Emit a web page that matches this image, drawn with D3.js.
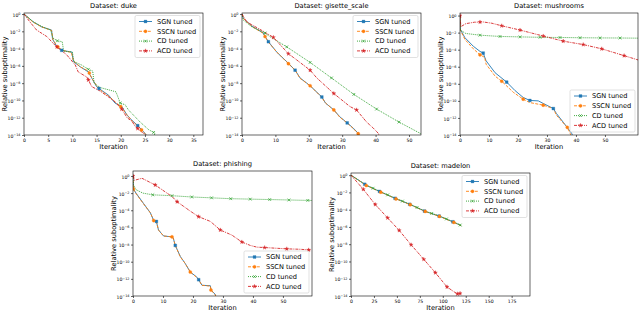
<!DOCTYPE html>
<html>
<head>
<meta charset="utf-8">
<title>Relative suboptimality per dataset</title>
<style>
body { margin: 0; background: #fff; }
svg text { font-family: "DejaVu Sans", sans-serif; fill: #000; }
.tick text { font-size: 4.6px; }
.tick line, .domain { stroke: #000; stroke-width: 0.6px; }
.title { font-size: 6.7px; }
.alabel { font-size: 6.7px; }
.legend text { font-size: 6.6px; }
path.series { fill: none; stroke-width: 0.9px; }
</style>
</head>
<body>
<script src="https://cdn.jsdelivr.net/npm/d3@7"></script>
<script>
// [iteration, log10(relative suboptimality)]
var dukeSGN = [[0,0],[1.9,-0.9],[3.7,-1.5],[5.7,-1.85],[5.9,-2.9],[6.8,-3.8],[7.8,-4.2],[9.9,-4.4],[10.2,-5.5],[11.6,-6.1],[13.3,-6.7],[14,-7.4],[15,-8.4],[15.7,-8.7],[17.5,-9.4],[18.8,-10.3],[20.2,-10.7],[21.3,-11.7],[22.3,-12.3],[23.3,-12.8],[24.7,-13.6],[25.5,-14.2]];
var dukeSSCN = [[0,0],[1.9,-0.95],[3.7,-1.5],[5.7,-1.9],[6,-3],[7,-3.8],[8,-4.2],[9.8,-4.45],[10.2,-5.4],[11.6,-6.1],[13.3,-6.6],[14.1,-7.5],[15,-8.3],[15.8,-8.8],[17.5,-9.5],[18.9,-10.2],[20.2,-10.8],[21.2,-11.6],[22.4,-12.4],[23.4,-12.9],[24.8,-13.7],[25.6,-14.2]];
var dukeCD = [[0,0],[1.9,-0.9],[3.7,-1.45],[5.5,-1.85],[6,-2.8],[6.9,-3.1],[7.9,-3.2],[8.2,-4.3],[10,-4.4],[10.3,-5.5],[11.9,-5.9],[13.3,-6.4],[14.2,-6.6],[14.5,-8],[15.7,-8.5],[19,-9],[19.9,-10.3],[20.9,-10.5],[21.6,-11.1],[24,-12.5],[25.8,-13.4],[26.8,-13.7],[27.2,-14.2]];
var dukeACD = [[0,0],[1.2,-0.9],[2.6,-1.85],[4.7,-2.6],[6.4,-3.6],[6.8,-3.8],[8.8,-4.7],[10.6,-5.9],[11.2,-6.7],[13,-7.3],[14,-8.4],[15.7,-8.9],[18.5,-10],[20.2,-11],[21.3,-12],[22.3,-12.4],[23,-13],[24,-13.5],[24.7,-13.8],[25.5,-14.3]];

var gisetteSGN = [[0,0],[0.4,-0.5],[3,-1.4],[6.4,-2.2],[6.9,-2.6],[7.9,-3.2],[10.4,-4.4],[13.9,-5.7],[15.9,-6.5],[17.4,-7.4],[20.4,-8.3],[23.9,-9.6],[25,-10.3],[27.5,-11.1],[29.3,-11.9],[31.5,-12.6],[33.3,-13.2],[34.8,-13.8],[35.2,-14.2]];
var gisetteSSCN = [[0,0],[0.4,-0.5],[3,-1.45],[6.4,-2.25],[6.9,-2.6],[7.9,-3.25],[10.4,-4.4],[13.9,-5.75],[15.9,-6.5],[17.4,-7.45],[20.4,-8.3],[23.9,-9.65],[25,-10.3],[27.5,-11.1],[29.3,-11.95],[31.5,-12.6],[33.3,-13.25],[34.8,-13.85],[35.2,-14.2]];
var gisetteCD = [[0,0],[0.4,-0.7],[3,-1.5],[6.9,-2.2],[8.3,-2.6],[13.4,-3.8],[20.4,-5.6],[26.8,-7.4],[33.5,-9.3],[40.3,-11],[47,-12.5],[53.8,-13.9],[54,-14.1]];
var gisetteACD = [[0,0],[1.4,-0.9],[6.4,-2],[9.4,-2.7],[13.9,-4.6],[16,-5.2],[20.4,-6.5],[22.4,-7.4],[27.5,-9.2],[32.3,-10.7],[34.3,-11.1],[37.3,-12.5],[39.3,-13.2],[40.8,-13.8],[41.2,-14.2]];

var mushSGN = [[0,0],[0.1,-1.6],[1.7,-2.6],[4.6,-3.6],[6.9,-4.2],[8,-4.4],[9,-5.3],[12.1,-6.7],[16.1,-7.8],[19,-8.8],[21.8,-9.6],[24.1,-9.95],[27,-10],[28.7,-10.3],[32.2,-10.9],[33.3,-11.5],[35.6,-12.5],[38.5,-13.8],[39,-14.2]];
var mushSSCN = [[0,0],[0.1,-1.7],[1.7,-2.8],[4.6,-3.9],[6.9,-4.6],[8.5,-4.9],[9,-5.7],[12.1,-7.1],[14.4,-7.7],[18.4,-9],[21.8,-9.8],[24.1,-10.2],[28.7,-10.5],[32.2,-10.9],[33.3,-11.7],[37,-13.1],[38,-13.8],[38.5,-14.2]];
var mushCD = [[0,0],[0.1,-1.7],[2,-2.1],[6.9,-2.3],[13.8,-2.45],[20.7,-2.5],[27.6,-2.55],[34.5,-2.57],[41.4,-2.6],[48.3,-2.62],[55,-2.63],[61.4,-2.65]];
var mushACD = [[0,0],[0.3,-1.3],[2,-0.95],[5,-0.78],[8,-0.75],[11,-0.9],[14.4,-1.2],[20.7,-1.7],[28.7,-2.4],[35.6,-3],[42.5,-3.4],[48.9,-3.9],[56.6,-4.7],[61.4,-5.2]];

var phishSGN = [[0,0],[0.1,-1.5],[1,-2],[3.5,-3.2],[5.8,-4.3],[6.9,-5.2],[7.8,-5.3],[8.5,-6.3],[10.2,-7],[13,-7.1],[13.4,-7.2],[14.1,-8.1],[15.8,-9.4],[17.4,-10.2],[19.1,-11.2],[21.3,-11.8],[21.9,-12.1],[23,-12.75],[25.8,-12.8],[26,-13.3],[27.4,-13.8],[27.8,-14.2]];
var phishSSCN = [[0,0],[0.1,-1.5],[1,-2.05],[3.5,-3.25],[5.8,-4.3],[6.9,-5.2],[7.8,-5.35],[8.5,-6.3],[10.2,-7],[13,-7.1],[13.4,-7.25],[14.1,-8.1],[15.8,-9.45],[17.4,-10.2],[19.1,-11.2],[21.3,-11.85],[21.9,-12.1],[23,-12.75],[25.8,-12.85],[26,-13.3],[27.4,-13.85],[27.8,-14.2]];
var phishCD = [[0,0],[0.1,-1],[1,-1.6],[3.3,-2],[6.6,-2.2],[13,-2.3],[19.6,-2.45],[26.2,-2.55],[32.6,-2.65],[39.1,-2.7],[45.6,-2.75],[52,-2.8],[58.3,-2.85],[59.7,-2.86]];
var phishACD = [[0,0],[0.5,-0.5],[3,-0.27],[7.4,-1.05],[13,-2.4],[14.7,-3],[19.1,-4.1],[21.9,-4.75],[25.8,-5.3],[29.1,-6.3],[33,-6.9],[36.3,-7.7],[39.1,-8.1],[41.3,-8.3],[43.9,-8.35],[51.3,-8.5],[55.8,-8.55],[59.4,-8.65]];

var madelonSGN = [[0,0],[16.6,-1.17],[32.4,-1.95],[49,-2.73],[64.5,-3.4],[80.8,-4.2],[96.3,-4.75],[112,-5.45],[120,-5.85]];
var madelonSSCN = [[0,0],[16.6,-1.2],[32.4,-1.97],[49,-2.75],[64.5,-3.42],[80.8,-4.2],[96.3,-4.78],[112,-5.47],[120,-5.87]];
var madelonCD = [[0,0],[16.6,-1.15],[32.4,-1.93],[49,-2.7],[64.5,-3.38],[80.8,-4.17],[96.3,-4.73],[112,-5.43],[120,-5.83]];
var madelonACD = [[0,0],[13.4,-1.64],[26.4,-3.4],[39.9,-4.95],[52.5,-6.4],[65.5,-8.07],[79.3,-9.75],[91.9,-11.3],[104.6,-12.95],[112,-13.5],[116,-13.75],[118.8,-13.7]];

// iterations at which a marker is drawn
var dukeMarks = { sgn: [7.8, 15.5, 23.5], sscn: [7, 13.5, 20, 24.3], cd: [6.9, 13.3, 19.9, 26.8], acd: [6.8, 13.3, 20.2, 23.5] };
var gisetteMarks = { sgn: [7.9, 15.9, 23.9, 31.5], sscn: [6.9, 13.9, 20.4, 27.5, 34.8], cd: [6.9, 13.4, 20.4, 26.8, 33.5, 40.3, 47], acd: [9.4, 13.9, 20.4, 27.5, 34.3] };
var mushMarks = { sgn: [8, 16.1, 24.1, 32.2], sscn: [6.9, 14.4, 21.8, 28.7, 37], cd: [6.9, 13.8, 20.7, 27.6, 34.5, 41.4, 48.3, 55.2], acd: [0, 6.9, 14.4, 20.7, 28.7, 35.6, 42.5, 48.9, 56.6] };
var phishMarks = { sgn: [7.8, 14.1, 21.9], sscn: [0.1, 6.9, 13, 19.1, 26], cd: [6.6, 13, 19.6, 26.2, 32.6, 39.1, 45.6, 52, 58.3], acd: [0, 7.4, 14.7, 21.9, 29.1, 36.3, 43.9, 51.3, 58.6] };
var madelonMarks = { sgn: [15, 31, 48, 64, 80, 96, 111], sscn: [16.6, 32.4, 49, 64.5, 80.8, 96.3, 112], cd: [24, 40, 56, 72, 88, 104, 119], acd: [13.4, 26.4, 39.9, 52.5, 65.5, 79.3, 91.9, 104.6, 116, 118.8] };

var methods = ["SGN tuned", "SSCN tuned", "CD tuned", "ACD tuned"];
var methodKeys = ["sgn", "sscn", "cd", "acd"];
var yTickExps = [0, -2, -4, -6, -8, -10, -12, -14];

var styles = {
  sgn:  { color: "#1f77b4", dash: null,      symbol: d3.symbolSquare, size: 8 },
  sscn: { color: "#ff7f0e", dash: "3,1.4",   symbol: d3.symbolCircle, size: 8 },
  cd:   { color: "#2ca02c", dash: "1,1",     symbol: "x",             size: 1.4 },
  acd:  { color: "#d62728", dash: "3,1,1,1", symbol: d3.symbolStar,   size: 5 }
};

var panels = [
  { name: "duke",          left: 24,  top: 13,  w: 179, h: 122, xmax: 37,   ytop: 0.12, xticks: [0,5,10,15,20,25,30,35], legend: "tr",
    series: { sgn: dukeSGN, sscn: dukeSSCN, cd: dukeCD, acd: dukeACD }, marks: dukeMarks },
  { name: "gisette_scale", left: 242, top: 13,  w: 179, h: 122, xmax: 53.6, ytop: 0.12, xticks: [0,10,20,30,40,50], legend: "tr",
    series: { sgn: gisetteSGN, sscn: gisetteSSCN, cd: gisetteCD, acd: gisetteACD }, marks: gisetteMarks },
  { name: "mushrooms",     left: 460, top: 13,  w: 178, h: 122, xmax: 61.4, ytop: 0.3,  xticks: [0,10,20,30,40,50], legend: "br",
    series: { sgn: mushSGN, sscn: mushSSCN, cd: mushCD, acd: mushACD }, marks: mushMarks },
  { name: "phishing",      left: 133, top: 171, w: 179, h: 125, xmax: 59.7, ytop: 0.58, xticks: [0,10,20,30,40,50], legend: "br",
    series: { sgn: phishSGN, sscn: phishSSCN, cd: phishCD, acd: phishACD }, marks: phishMarks },
  { name: "madelon",       left: 351, top: 173, w: 179, h: 123, xmax: 195,  ytop: 0.25, xticks: [0,25,50,75,100,125,150,175], legend: "tr",
    series: { sgn: madelonSGN, sscn: madelonSSCN, cd: madelonCD, acd: madelonACD }, marks: madelonMarks }
];

var svg = d3.select("body").append("svg")
  .attr("width", 640)
  .attr("height", 312);

function logAt(pts, xv) {
  for (var i = 1; i < pts.length; i++) {
    if (xv <= pts[i][0]) {
      var a = pts[i - 1], b = pts[i];
      var t = b[0] === a[0] ? 1 : (xv - a[0]) / (b[0] - a[0]);
      return a[1] + t * (b[1] - a[1]);
    }
  }
  return pts[pts.length - 1][1];
}

function drawMarker(sel, key, x, y) {
  var st = styles[key];
  if (st.symbol === "x") {
    var r = st.size;
    sel.append("path")
      .attr("d", "M" + -r + "," + -r + "L" + r + "," + r + "M" + -r + "," + r + "L" + r + "," + -r)
      .attr("transform", "translate(" + x + "," + y + ")")
      .attr("stroke", st.color).attr("stroke-width", 0.7).attr("fill", "none");
  } else {
    sel.append("path")
      .attr("d", d3.symbol().type(st.symbol).size(st.size)())
      .attr("transform", "translate(" + x + "," + y + ")")
      .attr("fill", st.color).attr("stroke", st.color).attr("stroke-width", 0.3);
  }
}

panels.forEach(function(p, pi) {
  var g = svg.append("g").attr("transform", "translate(" + p.left + "," + p.top + ")");

  var x = d3.scaleLinear().domain([0, p.xmax]).range([0, p.w]);
  var y = d3.scaleLog().domain([1e-14, Math.pow(10, p.ytop)]).range([p.h, 0]);

  g.append("defs").append("clipPath").attr("id", "clip" + pi)
    .append("rect").attr("width", p.w).attr("height", p.h);

  var plot = g.append("g").attr("clip-path", "url(#clip" + pi + ")");
  var line = d3.line()
    .x(function(d) { return x(d[0]); })
    .y(function(d) { return y(Math.pow(10, d[1])); });

  methodKeys.forEach(function(k) {
    var st = styles[k];
    plot.append("path")
      .attr("class", "series")
      .attr("d", line(p.series[k]))
      .attr("stroke", st.color)
      .attr("stroke-dasharray", st.dash);
  });
  methodKeys.forEach(function(k) {
    p.marks[k].forEach(function(mx) {
      drawMarker(plot, k, x(mx), y(Math.pow(10, logAt(p.series[k], mx))));
    });
  });

  // axes box
  g.append("rect").attr("width", p.w).attr("height", p.h)
    .attr("fill", "none").attr("stroke", "#000").attr("stroke-width", 0.6);

  g.append("g").attr("transform", "translate(0," + p.h + ")")
    .call(d3.axisBottom(x).tickValues(p.xticks).tickSize(2).tickPadding(1.5).tickFormat(d3.format("d")))
    .call(function(a) { a.select(".domain").remove(); });

  var ya = g.append("g")
    .call(d3.axisLeft(y).tickValues(yTickExps.map(function(e) { return Math.pow(10, e); }))
      .tickSize(2).tickPadding(1.5).tickFormat(""));
  ya.select(".domain").remove();
  ya.selectAll(".tick").each(function(d) {
    var e = Math.round(Math.log10(d));
    var t = d3.select(this).append("text")
      .attr("x", -3.5).attr("dy", "0.45em").attr("text-anchor", "end")
      .style("font-size", "4.6px");
    t.append("tspan").text("10");
    t.append("tspan").attr("dy", "-0.45em").style("font-size", "3.4px")
      .text(e === 0 ? "0" : "\u2212" + (-e));
  });

  g.append("text").attr("class", "title")
    .attr("x", p.w / 2).attr("y", -5.5).attr("text-anchor", "middle")
    .text("Dataset: " + p.name);

  g.append("text").attr("class", "alabel")
    .attr("x", p.w / 2).attr("y", p.h + 13.5).attr("text-anchor", "middle")
    .text("Iteration");

  g.append("text").attr("class", "alabel")
    .attr("transform", "translate(-17," + (p.h / 2) + ") rotate(-90)")
    .attr("text-anchor", "middle")
    .text("Relative suboptimality");

  // legend
  var lw = 65, lh = 42;
  var lx = p.w - lw - 3;
  var ly = p.legend === "tr" ? 2.5 : p.h - lh - 3;
  var lg = g.append("g").attr("class", "legend").attr("transform", "translate(" + lx + "," + ly + ")");
  lg.append("rect").attr("width", lw).attr("height", lh).attr("rx", 1.5)
    .attr("fill", "#fff").attr("fill-opacity", 0.8)
    .attr("stroke", "#ccc").attr("stroke-width", 0.6);
  methodKeys.forEach(function(k, i) {
    var st = styles[k];
    var yy = 6 + i * 9.8;
    lg.append("line").attr("x1", 4).attr("x2", 17).attr("y1", yy).attr("y2", yy)
      .attr("stroke", st.color).attr("stroke-width", 0.9).attr("stroke-dasharray", st.dash);
    drawMarker(lg, k, 10.5, yy);
    lg.append("text").attr("x", 22).attr("y", yy).attr("dy", "0.35em").text(methods[i]);
  });
});
</script>
</body>
</html>
